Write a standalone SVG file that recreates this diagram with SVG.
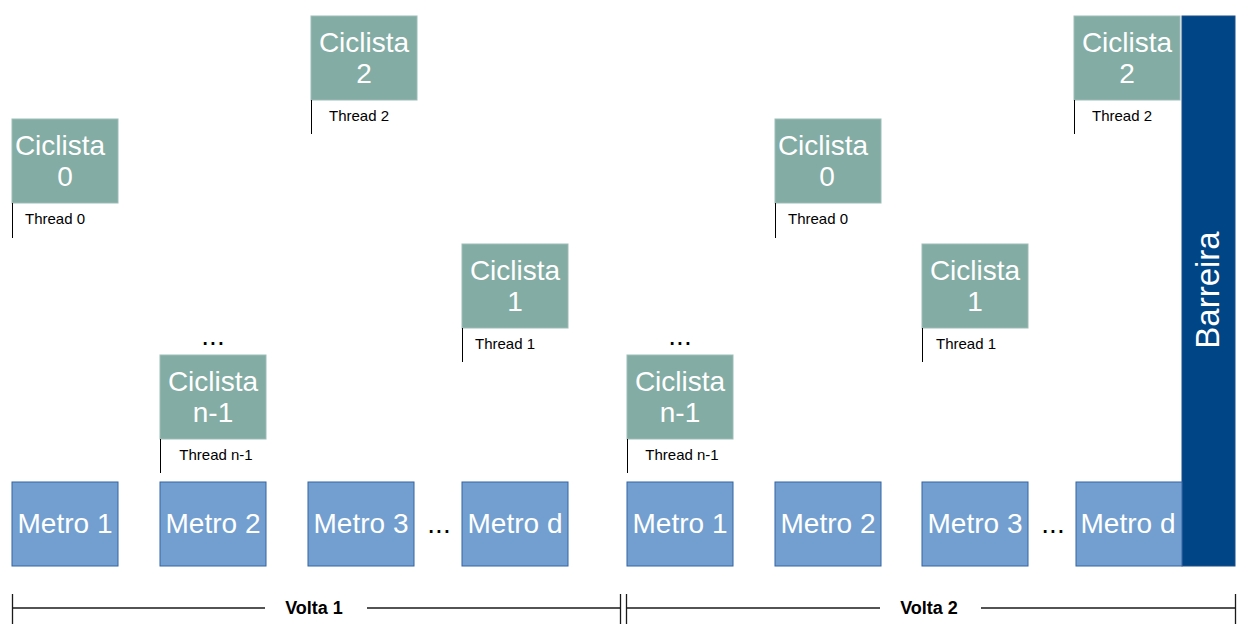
<svg xmlns="http://www.w3.org/2000/svg" width="1247" height="632" viewBox="0 0 1247 632">
<style>
.c{fill:#83aca4;stroke:#9dbdb6;stroke-width:1}
.m{fill:#729fcf;stroke:#3465a4;stroke-width:1}
.ct{font-family:"Liberation Sans",Arial,sans-serif;font-size:28px;fill:#ffffff;text-anchor:middle}
.th{font-family:"Liberation Sans",Arial,sans-serif;font-size:15px;fill:#000;text-anchor:middle}
.tl{stroke:#000;stroke-width:1}
.dots{font-family:"Liberation Sans",Arial,sans-serif;font-size:28px;fill:#000;text-anchor:middle}
.vl{font-family:"Liberation Sans",Arial,sans-serif;font-size:18px;font-weight:bold;fill:#000;text-anchor:middle}
.ln{stroke:#1a1a1a;stroke-width:1.3;fill:none}
</style>
<rect width="1247" height="632" fill="#ffffff"/>
<g id="barreira">
<rect x="1182" y="16" width="53" height="550" fill="#004586" stroke="#1c4f8a"/>
<text class="ct" transform="translate(1219,290) rotate(-90)" style="font-size:33px">Barreira</text>
</g>
<g id="c0a"><rect class="c" x="12" y="119" width="106" height="84"/><text class="ct" x="60" y="155">Ciclista</text><text class="ct" x="65" y="186">0</text><line class="tl" x1="12.5" y1="203" x2="12.5" y2="238"/><text class="th" x="55" y="224">Thread 0</text></g>
<g id="c2a"><rect class="c" x="311" y="16" width="106" height="84"/><text class="ct" x="364" y="52">Ciclista</text><text class="ct" x="364" y="83">2</text><line class="tl" x1="311.5" y1="100" x2="311.5" y2="134"/><text class="th" x="359" y="121">Thread 2</text></g>
<g id="c1a"><rect class="c" x="462" y="244" width="106" height="84"/><text class="ct" x="515" y="280">Ciclista</text><text class="ct" x="515" y="311">1</text><line class="tl" x1="462.5" y1="328" x2="462.5" y2="362"/><text class="th" x="505" y="349">Thread 1</text></g>
<g id="cna"><text class="dots" x="213" y="345">...</text><rect class="c" x="160" y="355" width="106" height="84"/><text class="ct" x="213" y="391">Ciclista</text><text class="ct" x="213" y="422">n-1</text><line class="tl" x1="160.5" y1="439" x2="160.5" y2="473"/><text class="th" x="216" y="460">Thread n-1</text></g>
<g id="c0b"><rect class="c" x="775" y="119" width="106" height="84"/><text class="ct" x="823" y="155">Ciclista</text><text class="ct" x="827" y="186">0</text><line class="tl" x1="775.5" y1="203" x2="775.5" y2="238"/><text class="th" x="818" y="224">Thread 0</text></g>
<g id="c2b"><rect class="c" x="1074" y="16" width="106" height="84"/><text class="ct" x="1127" y="52">Ciclista</text><text class="ct" x="1127" y="83">2</text><line class="tl" x1="1074.5" y1="100" x2="1074.5" y2="134"/><text class="th" x="1122" y="121">Thread 2</text></g>
<g id="c1b"><rect class="c" x="922" y="244" width="106" height="84"/><text class="ct" x="975" y="280">Ciclista</text><text class="ct" x="975" y="311">1</text><line class="tl" x1="922.5" y1="328" x2="922.5" y2="362"/><text class="th" x="966" y="349">Thread 1</text></g>
<g id="cnb"><text class="dots" x="680" y="345">...</text><rect class="c" x="627" y="355" width="106" height="84"/><text class="ct" x="680" y="391">Ciclista</text><text class="ct" x="680" y="422">n-1</text><line class="tl" x1="627.5" y1="439" x2="627.5" y2="473"/><text class="th" x="682" y="460">Thread n-1</text></g>
<g id="metros">
<rect class="m" x="12" y="482" width="106" height="84"/><text class="ct" x="65" y="533">Metro 1</text>
<rect class="m" x="160" y="482" width="106" height="84"/><text class="ct" x="213" y="533">Metro 2</text>
<rect class="m" x="308" y="482" width="106" height="84"/><text class="ct" x="361" y="533">Metro 3</text>
<text class="dots" x="439" y="533">...</text>
<rect class="m" x="462" y="482" width="106" height="84"/><text class="ct" x="515" y="533">Metro d</text>
<rect class="m" x="627" y="482" width="106" height="84"/><text class="ct" x="680" y="533">Metro 1</text>
<rect class="m" x="775" y="482" width="106" height="84"/><text class="ct" x="828" y="533">Metro 2</text>
<rect class="m" x="922" y="482" width="106" height="84"/><text class="ct" x="975" y="533">Metro 3</text>
<text class="dots" x="1053" y="533">...</text>
<rect class="m" x="1076" y="482" width="106" height="84"/><text class="ct" x="1128" y="533">Metro d</text>
</g>
<g id="connectors">
<line class="ln" x1="12.5" y1="594" x2="12.5" y2="624"/>
<line class="ln" x1="12" y1="608" x2="265" y2="608"/>
<line class="ln" x1="367" y1="608" x2="620" y2="608"/>
<line class="ln" x1="620.5" y1="594" x2="620.5" y2="624"/>
<line class="ln" x1="626.5" y1="594" x2="626.5" y2="624"/>
<line class="ln" x1="626" y1="608" x2="880" y2="608"/>
<line class="ln" x1="981" y1="608" x2="1235" y2="608"/>
<line class="ln" x1="1235.5" y1="594" x2="1235.5" y2="624"/>
</g>
<g id="labels">
<text class="vl" x="314" y="614">Volta 1</text>
<text class="vl" x="929" y="614">Volta 2</text>
</g>
</svg>
